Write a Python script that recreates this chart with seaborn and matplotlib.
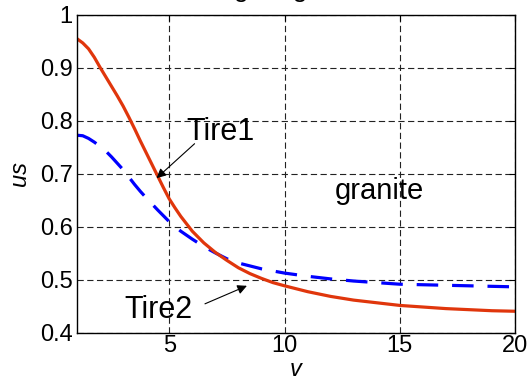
import numpy as np
import pandas as pd
import matplotlib
matplotlib.use('Agg')
import matplotlib.pyplot as plt
import seaborn as sns

# Werte
v_tire1 = [1, 1.25, 1.5, 1.75, 2, 2.25, 2.5, 2.75, 3, 3.25, 3.5, 3.75, 4,
           4.25, 4.5, 4.75, 5, 5.25, 5.5, 5.75, 6, 6.5, 7, 7.5, 8, 8.5, 9,
           9.5, 10, 11, 12, 13, 14, 15, 16, 17, 18, 19, 20]
us_tire1 = [0.955, 0.947, 0.936, 0.920, 0.901, 0.883, 0.865, 0.847, 0.828,
            0.807, 0.785, 0.762, 0.740, 0.718, 0.696, 0.674, 0.653, 0.636,
            0.620, 0.606, 0.592, 0.570, 0.552, 0.537, 0.523, 0.512, 0.503,
            0.495, 0.489, 0.478, 0.469, 0.462, 0.457, 0.452, 0.449, 0.446,
            0.444, 0.442, 0.441]

v_tire2 = [1, 1.25, 1.5, 1.75, 2, 2.25, 2.5, 2.75, 3, 3.25, 3.5, 3.75, 4,
           4.5, 5, 5.5, 6, 6.5, 7, 7.5, 8, 9, 10, 11, 12, 13, 14, 15, 16,
           17, 18, 19, 20]
us_tire2 = [0.773, 0.772, 0.767, 0.760, 0.752, 0.743, 0.732, 0.720, 0.708,
            0.694, 0.680, 0.667, 0.655, 0.632, 0.610, 0.592, 0.577, 0.563,
            0.551, 0.540, 0.532, 0.521, 0.513, 0.507, 0.502, 0.498, 0.495,
            0.492, 0.491, 0.490, 0.489, 0.488, 0.487]

x_ticks = [5, 10, 15, 20]
y_ticks = [0.4, 0.5, 0.6, 0.7, 0.8, 0.9, 1]
y_ticklabels = ['0.4', '0.5', '0.6', '0.7', '0.8', '0.9', '1']

sns.set_style('white')
plt.rcParams['font.family'] = ['Liberation Sans', 'DejaVu Sans']
plt.rcParams['lines.scale_dashes'] = False
plt.rcParams['text.color'] = 'black'
plt.rcParams['axes.labelcolor'] = 'black'

fig = plt.figure(figsize=(5.31, 3.81), dpi=100)
ax = fig.add_axes([0.145, 0.126, 0.825, 0.835])

sns.lineplot(x=v_tire2, y=us_tire2, ax=ax, color='#0000ff', linewidth=2.3,
             linestyle=(0, (15.5, 10)))
sns.lineplot(x=v_tire1, y=us_tire1, ax=ax, color='#e0360c', linewidth=2.3)

ax.set_xlim(1, 20)
ax.set_ylim(0.4, 1)
ax.set_xticks(x_ticks)
ax.set_xticklabels([str(t) for t in x_ticks])
ax.set_yticks(y_ticks)
ax.set_yticklabels(y_ticklabels)
ax.tick_params(direction='in', top=True, right=True, length=4, width=0.8,
               labelsize=17, colors='black')
ax.tick_params(axis='x', pad=1.5)
ax.tick_params(axis='y', pad=3)
ax.grid(True, color='#222222', linestyle=(0, (4.5, 2.5)), linewidth=0.8)
for s in ax.spines.values():
    s.set_color('black')
    s.set_linewidth(1)

ax.set_xlabel('v', fontsize=17, style='italic', labelpad=1)
ax.set_ylabel('us', fontsize=17, style='italic', labelpad=6.5)

# Titel, oben abgeschnitten
fig.text(0.51, 1.008, 'Rolling on granite', fontsize=19, ha='center',
         va='baseline')

arrow = dict(arrowstyle='-|>', color='black', lw=0.8, mutation_scale=14,
             shrinkA=0, shrinkB=0)
ax.text(5.75, 0.78, 'Tire1', fontsize=22, va='center', ha='left')
ax.annotate('', xy=(4.45, 0.692), xytext=(6.1, 0.757), arrowprops=arrow)
ax.text(12.2, 0.668, 'granite', fontsize=21, va='center', ha='left')
ax.text(3.05, 0.443, 'Tire2', fontsize=22, va='center', ha='left')
ax.annotate('', xy=(8.37, 0.489), xytext=(6.55, 0.455), arrowprops=arrow)

fig.savefig('out.png', dpi=100)
